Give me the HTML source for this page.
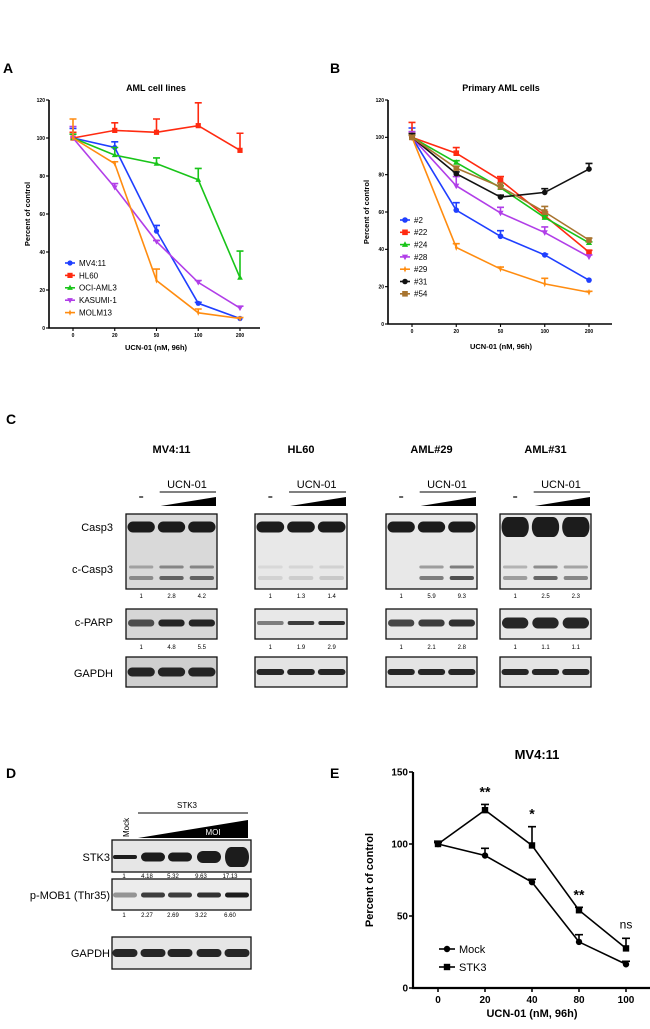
<!DOCTYPE html>
<html><head><meta charset="utf-8"><style>
html,body{margin:0;padding:0;background:#fff}
svg{display:block;font-family:"Liberation Sans",Arial,sans-serif}
</style></head><body>
<svg id="fig" width="650" height="1029" viewBox="0 0 650 1029">
<g id="gA"></g>
<g id="gB"></g>
<g id="gC"></g>
<g id="gD"></g>
<g id="gE"></g>
</svg>
<script>
// ---- Panel A data ----
const xCatsAB = ["0","20","50","100","200"];
const yTicksAB = [0,20,40,60,80,100,120];
const aNames = ["MV4:11","HL60","OCI-AML3","KASUMI-1","MOLM13"];
const aMV411 = [100,95,51,13,5];
const aHL60 = [100,104,103,106.5,93.5];
const aOCI = [100,91,86.5,78,26.5];
const aKAS = [100,74,45.5,24,10.5];
const aMOLM = [100,86.5,25,8,5];
const aMV411Err = [5,3,3,0.5,0];
const aHL60Err = [3,4,7,12,9];
const aOCIErr = [2,4,3,6,14];
const aKASErr = [6,2,0.5,1,1];
const aMOLMErr = [10,1,6,2,0.5];
// ---- Panel B data ----
const bNames = ["#2","#22","#24","#28","#29","#31","#54"];
const b2 = [100,61,47,37,23.5];
const b22 = [100,91.5,77,58,38.5];
const b24 = [100,86.5,73,57,43.5];
const b28 = [100,74,59.5,49,36];
const b29 = [100,41,29.5,21.5,17];
const b31 = [100,80.5,68,70.5,83];
const b54 = [100,83.5,73.5,60,45];
const b2Err = [5,4,3,0.5,0];
const b22Err = [8,3,2,2,1];
const b24Err = [3,1,1,1,0.5];
const b28Err = [3,5,3,3,1];
const b29Err = [2,2,1,3,0.5];
const b31Err = [2,1,1,2,3];
const b54Err = [1,1,2,3,1];
// ---- Panel E data ----
const eCats = ["0","20","40","80","100"];
const eYTicks = [0,50,100,150];
const eMock = [100,92,73.5,32,16.5];
const eSTK3 = [100,123.5,99,54,27.5];
const eMockErr = [1,5,2,5,2];
const eSTK3Err = [2,4,13,2,7];
const eSig = ["","**","*","**","ns"];

const NS="http://www.w3.org/2000/svg";
function mk(parent,tag,attrs,text){const e=document.createElementNS(NS,tag);for(const k in attrs)e.setAttribute(k,attrs[k]);if(text!==undefined)e.textContent=text;parent.appendChild(e);return e;}
function marker(g,type,x,y,s,c){
  let m;
  if(type==="circle")m=mk(g,"circle",{cx:x,cy:y,r:s,fill:c});
  else if(type==="square")m=mk(g,"rect",{x:x-s,y:y-s,width:2*s,height:2*s,fill:c});
  else if(type==="tri")m=mk(g,"polygon",{points:`${x},${y-s*1.2} ${x-s*1.1},${y+s*0.8} ${x+s*1.1},${y+s*0.8}`,fill:c});
  else if(type==="itri")m=mk(g,"polygon",{points:`${x},${y+s*1.2} ${x-s*1.1},${y-s*0.8} ${x+s*1.1},${y-s*0.8}`,fill:c});
  else m=mk(g,"polygon",{points:`${x},${y-s*1.2} ${x+s*0.5},${y} ${x},${y+s*1.2} ${x-s*0.5},${y} `,fill:c});
  return m;
}
function chart(g,o){
  const sx=i=>o.x0+i*(o.x1-o.x0)/(o.cats.length-1);
  const sy=v=>o.yB+(o.yT-o.yB)*(v-o.ymin)/(o.ymax-o.ymin);
  let t=mk(g,"text",{x:o.tx,y:o.ty,"font-size":o.tfs,"font-weight":"bold","text-anchor":"middle"},o.title);
  
  let ax=mk(g,"path",{d:`M${o.ax},${sy(o.ymax)}V${o.yB}H${o.axEnd}`,stroke:"#000","stroke-width":o.aw,fill:"none"});
  
  o.yticks.forEach(v=>{mk(g,"line",{x1:o.ax-o.tl,x2:o.ax,y1:sy(v),y2:sy(v),stroke:"#000","stroke-width":o.aw*0.7});
    let l=mk(g,"text",{x:o.ax-o.tl-1,y:sy(v)+o.fs*0.35,"font-size":o.fs,"text-anchor":"end","font-weight":o.fw},v);
    });
  o.cats.forEach((c,i)=>{mk(g,"line",{x1:sx(i),x2:sx(i),y1:o.yB,y2:o.yB+o.tl,stroke:"#000","stroke-width":o.aw*0.7});
    let l=mk(g,"text",{x:sx(i),y:o.yB+o.tl+o.fs+1,"font-size":o.fs,"text-anchor":"middle","font-weight":o.fw},c);
    });
  let yl=mk(g,"text",{x:0,y:0,"font-size":o.lfs,"font-weight":"bold","text-anchor":"middle",transform:`translate(${o.ylx},${o.yly}) rotate(-90)`},"Percent of control");
  
  let xl=mk(g,"text",{x:o.xlx,y:o.xly,"font-size":o.lfs,"font-weight":"bold","text-anchor":"middle"},"UCN-01 (nM, 96h)");
  
  o.series.forEach((s,k)=>{
    const sg=mk(g,"g",{});
    
    
    s.err.forEach((e,i)=>{if(e>0){const y=sy(s.v[i]),y2=sy(s.v[i]+e);
      mk(sg,"path",{d:`M${sx(i)},${y}V${y2}M${sx(i)-o.cap},${y2}H${sx(i)+o.cap}`,stroke:s.c,"stroke-width":o.lw,fill:"none"});}});
    mk(sg,"polyline",{points:s.v.map((v,i)=>sx(i)+","+sy(v)).join(" "),stroke:s.c,"stroke-width":o.lw,fill:"none"});
    s.v.forEach((v,i)=>{const m=marker(sg,s.m,sx(i),sy(v),o.ms,s.c);
      });
    const ly=o.legY+k*o.legDy;
    const le=mk(g,"g",{});
    
    mk(le,"line",{x1:o.legX-o.legL,x2:o.legX+o.legL,y1:ly,y2:ly,stroke:s.c,"stroke-width":o.lw});
    marker(le,s.m,o.legX,ly,o.ms,s.c);
    mk(le,"text",{x:o.legX+o.legL+4,y:ly+o.legFs*0.36,"font-size":o.legFs},s.name);
  });
  if(o.sig){o.sig.forEach((s,i)=>{if(!s)return;const top=o.series[1].v[i]+o.series[1].err[i];
    let t=mk(g,"text",{x:sx(i),y:s==="ns"?sy(top)-10:sy(top)-8,"font-size":s==="ns"?12:14,"text-anchor":"middle","font-weight":s==="ns"?"normal":"bold"},s);
    });}
  return {sx,sy};
}
function panelLetter(l,x,y){const t=mk(document.getElementById('fig'),"text",{x:x,y:y,"font-size":14,"font-weight":"bold"},l);
  }
panelLetter("A",3,73);panelLetter("B",330,73);panelLetter("C",6,424);panelLetter("D",6,778);panelLetter("E",330,778);

chart(document.getElementById('gA'),{x0:73,x1:240,ax:49,axEnd:260,yT:100,yB:328,ymin:0,ymax:120,cats:xCatsAB,yticks:yTicksAB,
  title:"AML cell lines",tx:156,ty:91,tfs:9,aw:1.6,tl:3,fs:5,fw:"bold",lfs:7.5,ylx:30,yly:214,xlx:156,xly:350,lw:1.6,cap:3.5,ms:2.6,
  legX:70,legY:263,legDy:12.4,legL:5,legFs:8,
  series:[{name:aNames[0],v:aMV411,err:aMV411Err,c:"#1f3fff",m:"circle"},
          {name:aNames[1],v:aHL60,err:aHL60Err,c:"#ff2a10",m:"square"},
          {name:aNames[2],v:aOCI,err:aOCIErr,c:"#19c419",m:"tri"},
          {name:aNames[3],v:aKAS,err:aKASErr,c:"#b13ee8",m:"itri"},
          {name:aNames[4],v:aMOLM,err:aMOLMErr,c:"#ff8c10",m:"diamond"}]});
chart(document.getElementById('gB'),{x0:412,x1:589,ax:388,axEnd:612,yT:100,yB:324,ymin:0,ymax:120,cats:xCatsAB,yticks:yTicksAB,
  title:"Primary AML cells",tx:501,ty:91,tfs:9,aw:1.6,tl:3,fs:5,fw:"bold",lfs:7.5,ylx:369,yly:212,xlx:501,xly:349,lw:1.6,cap:3.5,ms:2.8,
  legX:405,legY:220,legDy:12.3,legL:5,legFs:8,
  series:[{name:bNames[0],v:b2,err:b2Err,c:"#1f3fff",m:"circle"},
          {name:bNames[1],v:b22,err:b22Err,c:"#ff2a10",m:"square"},
          {name:bNames[2],v:b24,err:b24Err,c:"#19c419",m:"tri"},
          {name:bNames[3],v:b28,err:b28Err,c:"#b13ee8",m:"itri"},
          {name:bNames[4],v:b29,err:b29Err,c:"#ff8c10",m:"diamond"},
          {name:bNames[5],v:b31,err:b31Err,c:"#111",m:"circle"},
          {name:bNames[6],v:b54,err:b54Err,c:"#a8742f",m:"square"}]});
chart(document.getElementById('gE'),{x0:438,x1:626,ax:413,axEnd:650,yT:772,yB:988,ymin:0,ymax:150,cats:eCats,yticks:eYTicks,
  title:"MV4:11",tx:537,ty:759,tfs:13,aw:2.2,tl:4,fs:10,fw:"bold",lfs:11,ylx:373,yly:880,xlx:532,xly:1017,lw:1.6,cap:4,ms:3.2,
  legX:447,legY:949,legDy:18,legL:8,legFs:11,sig:eSig,
  series:[{name:"Mock",v:eMock,err:eMockErr,c:"#000",m:"circle"},
          {name:"STK3",v:eSTK3,err:eSTK3Err,c:"#000",m:"square"}]});

// ---- Panel C blots ----
const gC=document.getElementById('gC');
const cTitles=["MV4:11","HL60","AML#29","AML#31"];
const cBoxX=[126,255,386,500];
const cBoxW=[91,92,91,91];
const cCasp=[["1","2.8","4.2"],["1","1.3","1.4"],["1","5.9","9.3"],["1","2.5","2.3"]];
const cParp=[["1","4.8","5.5"],["1","1.9","2.9"],["1","2.1","2.8"],["1","1.1","1.1"]];
const cCleaved=[[0.4,0.6,0.6],[0.1,0.12,0.15],[0,0.5,0.7],[0.35,0.6,0.45]];
const cParpI=[[0.7,0.9,0.9],[0.5,0.8,0.85],[0.75,0.8,0.85],[0.9,0.9,0.9]];
function band(g,cx,cy,w,h,op){mk(g,"rect",{x:cx-w/2,y:cy-h/2,width:w,height:h,rx:Math.min(w/2,h/2,6),ry:h/2,fill:"#111","fill-opacity":op});}
[["Casp3",527],["c-Casp3",569],["c-PARP",622],["GAPDH",673]].forEach(r=>{
  const t=mk(gC,"text",{x:113,y:r[1]+4,"font-size":11,"text-anchor":"end"},r[0]);
  });
cTitles.forEach((ti,k)=>{
  const x=cBoxX[k],w=cBoxW[k],g=mk(gC,"g",{});
  
  const cx=i=>x+w*(2*i+1)/6;
  mk(g,"text",{x:x+w/2,y:453,"font-size":11,"font-weight":"bold","text-anchor":"middle"},ti);
  mk(g,"text",{x:x+w*0.67,y:488,"font-size":11,"text-anchor":"middle"},"UCN-01");
  mk(g,"line",{x1:x+w*0.37,x2:x+w-1,y1:492,y2:492,stroke:"#000","stroke-width":1});
  mk(g,"line",{x1:cx(0)-2,x2:cx(0)+2,y1:497,y2:497,stroke:"#000","stroke-width":1.2});
  mk(g,"polygon",{points:`${x+w*0.38},${506} ${x+w-1},${497} ${x+w-1},${506}`,fill:"#000"});
  mk(g,"rect",{x:x,y:514,width:w,height:75,fill:k==0?"#d9d9d9":"#e8e8e8",stroke:"#111","stroke-width":1.3});
  for(let i=0;i<3;i++){band(g,cx(i),527,w/3-3,k==3?20:11,0.95);
    if(cCleaved[k][i]>0){band(g,cx(i),567,w/3-6,3,cCleaved[k][i]*0.7);band(g,cx(i),578,w/3-6,4,cCleaved[k][i]);}
    mk(g,"text",{x:cx(i),y:598,"font-size":6,"text-anchor":"middle"},cCasp[k][i]);}
  mk(g,"rect",{x:x,y:609,width:w,height:30,fill:k==0?"#d6d6d6":"#e8e8e8",stroke:"#111","stroke-width":1.3});
  for(let i=0;i<3;i++){band(g,cx(i),623,w/3-4,k==3?11:(k==1?4:7),cParpI[k][i]);
    mk(g,"text",{x:cx(i),y:649,"font-size":6,"text-anchor":"middle"},cParp[k][i]);}
  mk(g,"rect",{x:x,y:657,width:w,height:30,fill:k==0?"#cfcfcf":"#e4e4e4",stroke:"#111","stroke-width":1.3});
  for(let i=0;i<3;i++)band(g,cx(i),672,w/3-3,k==0?9:6,0.9);
});

// ---- Panel D blots ----
const gD=document.getElementById('gD');
const dNumX=[124,147,173,201,230];
const dBandX=[125,153,180,209,237];
const dSTK3=["1","4.18","5.32","9.63","17.13"];
const dMOB=["1","2.27","2.69","3.22","6.60"];
const dSTKh=[4,9,9,12,20];
const dMOBo=[0.4,0.8,0.8,0.85,0.95];
[["STK3",857],["p-MOB1 (Thr35)",895],["GAPDH",953]].forEach(r=>{
  const t=mk(gD,"text",{x:110,y:r[1]+4,"font-size":11,"text-anchor":"end"},r[0]);
  });
let mt=mk(gD,"text",{x:0,y:0,"font-size":8,transform:"translate(129,837) rotate(-90)"},"Mock");

mk(gD,"text",{x:187,y:808,"font-size":8,"text-anchor":"middle"},"STK3");
mk(gD,"line",{x1:138,x2:248,y1:813,y2:813,stroke:"#000","stroke-width":1});
mk(gD,"polygon",{points:"138,838 248,820 248,838",fill:"#000"});
mk(gD,"text",{x:213,y:835,"font-size":8,fill:"#fff","text-anchor":"middle"},"MOI");
mk(gD,"rect",{x:112,y:840,width:139,height:32,fill:"#e6e6e6",stroke:"#111","stroke-width":1.3});
mk(gD,"rect",{x:112,y:879,width:139,height:31,fill:"#ececec",stroke:"#111","stroke-width":1.3});
mk(gD,"rect",{x:112,y:937,width:139,height:32,fill:"#e6e6e6",stroke:"#111","stroke-width":1.3});
dBandX.forEach((x,i)=>{
  band(gD,x,857,24,dSTKh[i],0.95);
  band(gD,x,895,24,5,dMOBo[i]);
  band(gD,x,953,25,8,0.9);
});
dNumX.forEach((x,i)=>{
  mk(gD,"text",{x:x,y:878,"font-size":6,"text-anchor":"middle"},dSTK3[i]);
  mk(gD,"text",{x:x,y:917,"font-size":6,"text-anchor":"middle"},dMOB[i]);
});
</script>
</body></html>
